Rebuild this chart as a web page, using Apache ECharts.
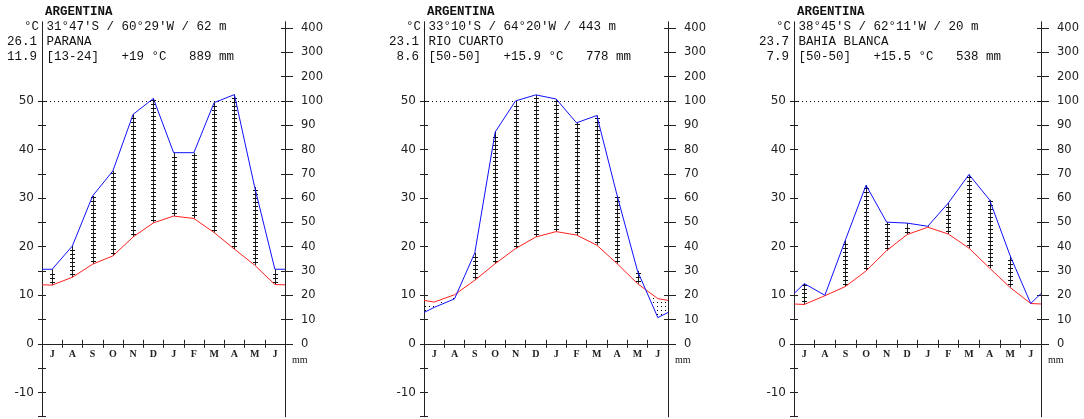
<!DOCTYPE html>
<html>
<head>
<meta charset="utf-8">
<script src="https://cdn.jsdelivr.net/npm/echarts@6/dist/echarts.min.js"></script>
<style>
  html, body { margin: 0; padding: 0; background: #fff; }
  #chart { width: 1084px; height: 419px; }
</style>
</head>
<body>
<div id="chart"></div>
<script>
// months, starting in July (southern hemisphere)
const months = ['J', 'A', 'S', 'O', 'N', 'D', 'J', 'F', 'M', 'A', 'M', 'J']

// station header texts
const country = 'ARGENTINA'
const stationNames = ['PARANA', 'RIO CUARTO', 'BAHIA BLANCA']
const stationCoords = ["31°47'S / 60°29'W / 62 m", "33°10'S / 64°20'W / 443 m", "38°45'S / 62°11'W / 20 m"]
const maxTemps = ['26.1', '23.1', '23.7']
const minTemps = ['11.9', '8.6', '7.9']
const periods = ['[13-24]', '[50-50]', '[50-50]']
const meanTemps = ['+19 °C', '+15.9 °C', '+15.5 °C']
const totalPrecs = ['889 mm', '778 mm', '538 mm']

// monthly mean temperature (°C)
const paranaTemp = [12.1, 13.7, 16.4, 18.1, 22.0, 24.9, 26.3, 25.8, 22.9, 19.5, 16.2, 12.2]
const rioCuartoTemp = [8.6, 10.1, 13.1, 16.5, 19.6, 22.0, 23.1, 22.4, 20.3, 16.5, 12.4, 9.3]
const bahiaBlancaTemp = [8.1, 9.9, 11.8, 15.0, 19.2, 22.5, 24.0, 22.6, 19.7, 15.6, 11.6, 8.3]

// monthly precipitation (mm)
const paranaPrec = [30.7, 40.3, 60.9, 71.2, 94.5, 110, 78.7, 78.7, 99.3, 126, 64.6, 30.7]
const rioCuartoPrec = [15, 18.5, 37.5, 87.2, 100, 125, 108, 91, 94, 61, 30, 10.8]
const bahiaBlancaPrec = [24.8, 20.0, 42.8, 65.3, 50.1, 49.7, 48.4, 58.0, 69.7, 59.3, 36.3, 16.6]

// axis ticks
const tempTicks = [-15, -10, -5, 0, 5, 10, 15, 20, 25, 30, 35, 40, 45, 50]
const tempLabels = [-10, 0, 10, 20, 30, 40, 50]
const precTicks = [0, 10, 20, 30, 40, 50, 60, 70, 80, 90, 100, 200, 300, 400]

const temps = [paranaTemp, rioCuartoTemp, bahiaBlancaTemp]
const precs = [paranaPrec, rioCuartoPrec, bahiaBlancaPrec]

// precipitation -> temperature scale (20 mm = 10 °C up to 100 mm, then compressed 1/10)
function precToScale(p) {
  return p <= 100 ? p / 2 : 50 + (p - 100) / 20
}
function scaleToPrec(v) {
  return v <= 50 ? v * 2 : 100 + (v - 50) * 20
}
// points at month centers, edges at mean of June/July
function linePoints(vals) {
  const e = (vals[0] + vals[11]) / 2
  return [[0, e]].concat(vals.map((v, i) => [i + 0.5, v]), [[12, e]])
}

const axisColor = '#222'
const panelLeft = [42, 424, 794]
const panelWidth = [243, 244, 247]
const gridTop = 22
const gridHeight = 394.7
const yMin = -15
const yMax = 66.25
// distance from grid bottom up to the 0 °C line
const zeroOffset = -gridHeight * (0 - yMin) / (yMax - yMin)

const grids = [], xAxes = [], yAxes = [], series = [], graphics = []

for (let p = 0; p < 3; p++) {
  const L = panelLeft[p]
  grids.push({ left: L, top: gridTop, width: panelWidth[p], height: gridHeight, outerBoundsMode: 'none', containLabel: false })

  // hidden value axis for data, category axes for ticks crossing the line and labels
  xAxes.push({ type: 'value', gridIndex: p, position: 'bottom', min: 0, max: 12, show: false })
  for (let k = 0; k < 3; k++) {
    xAxes.push({
      type: 'category', gridIndex: p, position: 'bottom', data: months, boundaryGap: true,
      offset: zeroOffset,
      axisLine: { show: k < 2, onZero: false, lineStyle: { color: axisColor, width: 1 } },
      axisTick: { show: k < 2, inside: k === 0, length: 4, interval: 0, lineStyle: { color: axisColor } },
      axisLabel: {
        show: k === 2, interval: 0, margin: 6, color: '#222',
        fontFamily: 'Liberation Serif', fontWeight: 'bold', fontSize: 10
      },
      splitLine: { show: false }
    })
  }
  const yBase = { type: 'value', gridIndex: p, min: yMin, max: yMax, splitLine: { show: false } }
  // left temperature axis (ticks inside and outside)
  for (let k = 0; k < 2; k++) {
    yAxes.push(Object.assign({}, yBase, {
      position: 'left',
      axisLine: { show: true, onZero: false, lineStyle: { color: axisColor, width: 1 } },
      axisTick: { show: true, inside: k === 0, length: 4, customValues: tempTicks, lineStyle: { color: axisColor } },
      axisLabel: {
        show: k === 1, customValues: tempLabels, margin: 8, color: '#222',
        fontFamily: 'DejaVu Sans', fontSize: 12
      }
    }))
  }
  // right precipitation axis
  for (let k = 0; k < 2; k++) {
    yAxes.push(Object.assign({}, yBase, {
      position: 'right',
      axisLine: { show: true, onZero: false, lineStyle: { color: axisColor, width: 1 } },
      axisTick: {
        show: true, inside: k === 0, length: k === 0 ? 4 : 8,
        customValues: precTicks.map(precToScale), lineStyle: { color: axisColor }
      },
      axisLabel: {
        show: k === 1, customValues: precTicks.map(precToScale), margin: 16, color: '#222',
        fontFamily: 'DejaVu Sans', fontSize: 11.5,
        formatter: v => String(Math.round(scaleToPrec(v)))
      }
    }))
  }

  const xi = p * 4, yi = p * 4
  const tPts = linePoints(temps[p])
  const pPts = linePoints(precs[p].map(precToScale))

  // arid period dots
  const segs = []
  for (let i = 0; i < 13; i++) {
    segs.push([tPts[i][0], tPts[i + 1][0], tPts[i][1], tPts[i + 1][1], pPts[i][1], pPts[i + 1][1]])
  }
  series.push({
    type: 'custom', xAxisIndex: xi, yAxisIndex: yi, clip: false, silent: true, z: 1,
    data: segs,
    renderItem: (params, api) => {
      const x0 = api.value(0), x1 = api.value(1)
      const t0 = api.value(2), t1 = api.value(3), p0 = api.value(4), p1 = api.value(5)
      const a = api.coord([x0, 0])[0], b = api.coord([x1, 0])[0]
      const children = []
      for (let px = Math.ceil(a / 4) * 4 + 1; px < b; px += 4) {
        const f = (px - a) / (b - a)
        const t = t0 + (t1 - t0) * f, pr = p0 + (p1 - p0) * f
        if (t <= pr) continue
        const yt = api.coord([0, t])[1], yp = api.coord([0, pr])[1]
        for (let py = Math.ceil(yt / 4) * 4 + 2; py < yp - 1; py += 4) {
          children.push({ type: 'rect', shape: { x: px, y: py, width: 1, height: 1 }, style: { fill: '#000' } })
        }
      }
      return { type: 'group', children }
    }
  })

  // humid period hatching at month centers
  series.push({
    type: 'custom', xAxisIndex: xi, yAxisIndex: yi, clip: false, silent: true, z: 2,
    data: temps[p].map((t, i) => [i + 0.5, t, precToScale(precs[p][i])]),
    renderItem: (params, api) => {
      const x = api.value(0), t = api.value(1), pr = api.value(2)
      if (pr <= t) return { type: 'group', children: [] }
      const bot = api.coord([x, t]), top = api.coord([x, pr])
      const cx = Math.round(bot[0]) + 0.5
      const children = [{
        type: 'line', shape: { x1: cx, y1: bot[1], x2: cx, y2: top[1] },
        style: { stroke: '#222', lineWidth: 1 }
      }]
      for (let py = bot[1] - 3; py > top[1] + 1; py -= 4) {
        const yy = Math.round(py) + 0.5
        children.push({
          type: 'line', shape: { x1: cx - 2.5, y1: yy, x2: cx + 2.5, y2: yy },
          style: { stroke: '#111', lineWidth: 1 }
        })
      }
      return { type: 'group', children }
    }
  })

  series.push({
    type: 'line', xAxisIndex: xi, yAxisIndex: yi, data: tPts, symbol: 'none', silent: true, z: 3,
    lineStyle: { color: '#ff2020', width: 1 },
    markLine: {
      silent: true, symbol: 'none', label: { show: false },
      lineStyle: { color: '#000', width: 1, type: [1, 3] },
      data: [{ yAxis: 50 }]
    }
  })
  series.push({
    type: 'line', xAxisIndex: xi, yAxisIndex: yi, data: pPts, symbol: 'none', silent: true, z: 4,
    lineStyle: { color: '#1010ff', width: 1 }
  })

  // header texts
  const mono = '12.5px "Liberation Mono"'
  const txt = (text, x, y, align, font) => ({
    type: 'text', silent: true,
    style: {
      text, x, y, font: font || mono, fill: '#111',
      align, textAlign: align, verticalAlign: 'middle', textVerticalAlign: 'middle'
    }
  })
  graphics.push(txt(country, L + 3, 12, 'left', 'bold 12.5px "Liberation Mono"'))
  graphics.push(txt('°C', L - 3, 27, 'right'))
  graphics.push(txt(stationCoords[p], L + 4.5, 27, 'left'))
  graphics.push(txt(maxTemps[p], L - 5, 42, 'right'))
  graphics.push(txt(stationNames[p], L + 4.5, 42, 'left'))
  graphics.push(txt(minTemps[p], L - 5, 57, 'right'))
  graphics.push(txt(periods[p] + '   ' + meanTemps[p] + '   ' + totalPrecs[p], L + 4.5, 57, 'left'))
  graphics.push(txt('mm', L + panelWidth[p] + 7, 360, 'left', '10px "Liberation Serif"'))
}

const chart = echarts.init(document.getElementById('chart'), null, { renderer: 'canvas' })
chart.setOption({
  animation: false,
  backgroundColor: '#fff',
  grid: grids,
  xAxis: xAxes,
  yAxis: yAxes,
  series: series,
  graphic: graphics
})
</script>
</body>
</html>
